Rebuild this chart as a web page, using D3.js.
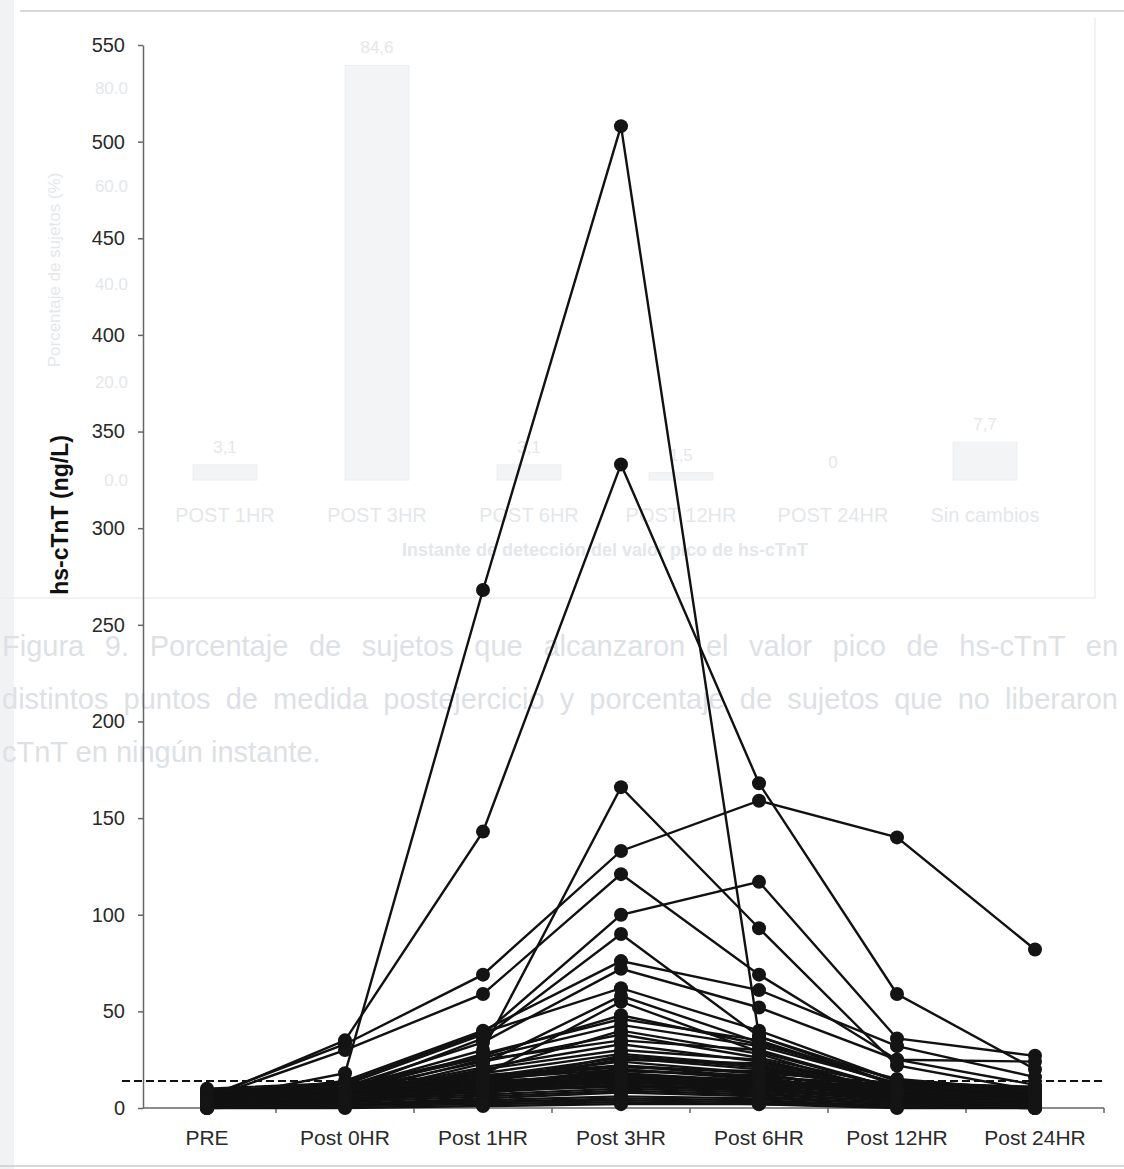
<!DOCTYPE html>
<html>
<head>
<meta charset="utf-8">
<script src="https://cdn.jsdelivr.net/npm/d3@7"></script>
<style>
  body { margin: 0; background: #ffffff; }
  svg { display: block; font-family: "Liberation Sans", Arial, sans-serif; }
</style>
</head>
<body>
<div id="chart"></div>
<script>

// time points
const categories = ["PRE", "Post 0HR", "Post 1HR", "Post 3HR", "Post 6HR", "Post 12HR", "Post 24HR"];

// hs-cTnT (ng/L) per subject, one value per time point
const subjectValues = [
    [4, 18, 268, 508, 37, 14, 7],
    [5, 35, 143, 333, 168, 59, 20],
    [6, 33, 69, 133, 159, 140, 82],
    [5, 30, 59, 121, 69, 25, 12],
    [3, 10, 30, 166, 93, 22, 9],
    [5, 12, 38, 100, 117, 36, 27],
    [4, 9, 36, 90, 37, 12, 5],
    [6, 14, 40, 76, 61, 32, 16],
    [3, 11, 34, 72, 52, 25, 24],
    [5, 13, 39, 62, 40, 14, 10],
    [4, 8, 28, 46, 35, 12, 8],
    [2, 7, 25, 35, 30, 10, 6],
    [3, 6, 20, 30, 25, 9, 5],
    [2, 5, 18, 28, 22, 8, 4],
    [4, 7, 16, 26, 20, 10, 6],
    [1, 4, 15, 24, 18, 7, 3],
    [3, 8, 14, 22, 16, 6, 4],
    [2, 5, 12, 20, 15, 5, 3],
    [5, 9, 13, 18, 14, 8, 5],
    [4, 6, 11, 16, 12, 6, 4],
    [2, 4, 10, 15, 11, 5, 2],
    [1, 3, 9, 14, 10, 4, 2],
    [3, 5, 8, 12, 9, 4, 3],
    [6, 8, 10, 13, 11, 9, 7],
    [7, 10, 12, 15, 13, 10, 8],
    [8, 11, 14, 17, 14, 11, 9],
    [9, 12, 15, 20, 16, 12, 10],
    [10, 13, 17, 22, 18, 13, 11],
    [2, 3, 6, 9, 7, 3, 1],
    [1, 2, 5, 8, 6, 2, 1],
    [0, 1, 3, 5, 4, 1, 0],
    [0, 2, 4, 6, 5, 2, 1],
    [1, 2, 3, 4, 3, 1, 0],
    [0, 0, 1, 2, 2, 0, 0],
    [3, 4, 7, 10, 8, 3, 2],
    [4, 5, 9, 11, 9, 5, 3],
    [2, 6, 19, 40, 28, 7, 4],
    [3, 7, 21, 33, 24, 9, 5],
    [4, 9, 24, 38, 26, 11, 7],
    [5, 10, 26, 43, 32, 13, 8],
    [6, 11, 27, 48, 33, 15, 9],
    [2, 5, 17, 55, 29, 10, 6],
    [3, 6, 23, 58, 34, 12, 7],
    [1, 4, 13, 27, 21, 8, 5],
    [5, 7, 12, 19, 17, 9, 6],
    [0, 1, 2, 3, 2, 1, 0],
    [7, 9, 11, 14, 12, 7, 6],
    [8, 10, 13, 16, 15, 8, 7],
    [6, 7, 9, 12, 10, 6, 5],
    [9, 11, 16, 21, 19, 11, 9],
    [4, 6, 14, 25, 23, 9, 6],
    [3, 5, 11, 17, 13, 7, 4]
];

const yTickValues = [0, 50, 100, 150, 200, 250, 300, 350, 400, 450, 500, 550];
const cutoffValue = 14;   // 99th percentile line

// faint print-through from the other side of the page
const ghostCategories = ["POST 1HR", "POST 3HR", "POST 6HR", "POST 12HR", "POST 24HR", "Sin cambios"];
const ghostValues = [3.1, 84.6, 3.1, 1.5, 0, 7.7];
const ghostValueLabels = ["3,1", "84,6", "3,1", "1,5", "0", "7,7"];
const ghostTicks = [0, 20, 40, 60, 80];
const ghostCaption = [
    "Figura 9. Porcentaje de sujetos que alcanzaron el valor pico de hs-cTnT en",
    "distintos puntos de medida postejercicio y porcentaje de sujetos que no liberaron",
    "cTnT en ningún instante."
];

const width = 1124, height = 1169;

let svg = d3.select("#chart").append("svg")
    .attr("width", width)
    .attr("height", height);

// ---------- ghost layer ----------
let ghost = svg.append("g").attr("class", "ghost").attr("fill", "#e4e7ea");

ghost.append("rect").attr("x", 0).attr("y", 0).attr("width", 14).attr("height", height).attr("fill", "#f1f2f3");
ghost.append("line").attr("x1", 20).attr("x2", width).attr("y1", 11).attr("y2", 11)
    .attr("stroke", "#c9cccf").attr("stroke-width", 1.5);
ghost.append("line").attr("x1", 0).attr("x2", 1095).attr("y1", 598).attr("y2", 598)
    .attr("stroke", "#eceef0").attr("stroke-width", 1.5);
ghost.append("line").attr("x1", 1095).attr("x2", 1095).attr("y1", 18).attr("y2", 598)
    .attr("stroke", "#eceef0").attr("stroke-width", 1.5);
ghost.append("line").attr("x1", 0).attr("x2", width).attr("y1", 1166).attr("y2", 1166)
    .attr("stroke", "#c9cccf").attr("stroke-width", 1.5);

let gx = d3.scaleBand().domain(ghostCategories).range([149, 1061]).paddingInner(0.58).paddingOuter(0.29);
let gy = d3.scaleLinear().domain([0, 80]).range([480, 88]);

ghost.selectAll(".gbar").data(ghostValues).join("rect")
    .attr("class", "gbar")
    .attr("x", (d, i) => gx(ghostCategories[i]))
    .attr("width", gx.bandwidth())
    .attr("y", d => gy(d))
    .attr("height", d => gy(0) - gy(d))
    .attr("fill", "#f3f4f5")
    .attr("stroke", "#eceef0");

ghost.selectAll(".gval").data(ghostValues).join("text")
    .attr("class", "gval")
    .attr("x", (d, i) => gx(ghostCategories[i]) + gx.bandwidth() / 2)
    .attr("y", d => gy(d) - 12)
    .attr("text-anchor", "middle")
    .attr("font-size", 17)
    .text((d, i) => ghostValueLabels[i]);

ghost.selectAll(".gtick").data(ghostTicks).join("text")
    .attr("class", "gtick")
    .attr("x", 128)
    .attr("y", d => gy(d) + 6)
    .attr("text-anchor", "end")
    .attr("font-size", 17)
    .text(d => d.toFixed(1));

ghost.selectAll(".gcat").data(ghostCategories).join("text")
    .attr("class", "gcat")
    .attr("x", d => gx(d) + gx.bandwidth() / 2)
    .attr("y", 522)
    .attr("text-anchor", "middle")
    .attr("font-size", 20)
    .text(d => d);

ghost.append("text")
    .attr("x", 605).attr("y", 556)
    .attr("text-anchor", "middle")
    .attr("font-size", 18).attr("font-weight", "bold")
    .text("Instante de detección del valor pico de hs-cTnT");

ghost.append("text")
    .attr("transform", "translate(60,270) rotate(-90)")
    .attr("text-anchor", "middle")
    .attr("font-size", 17)
    .text("Porcentaje de sujetos (%)");

// caption, justified with word spacing like the printed page
ghost.selectAll(".gcap").data(ghostCaption).join("text")
    .attr("class", "gcap")
    .attr("x", 2)
    .attr("y", (d, i) => 656 + i * 53)
    .attr("font-size", 29)
    .attr("fill", "#dde1e5")
    .text(d => d)
    .each(function(d, i) {
        if (i == 2) return;
        let natural = this.getComputedTextLength();
        let gaps = d.split(" ").length - 1;
        let extra = Math.max(0, (1116 - natural) / gaps);
        d3.select(this).attr("word-spacing", extra.toFixed(2));
    });

// ---------- main chart ----------
let x = d3.scaleBand().domain(categories).range([138, 1104]);
let y = d3.scaleLinear().domain([0, 550]).range([1108, 45]);
const axisLeftX = 143;

let chart = svg.append("g").attr("class", "chart");

// y axis
let yAxis = d3.axisLeft(y)
    .tickValues(yTickValues)
    .tickSize(5)
    .tickSizeOuter(0)
    .tickPadding(13);

let yG = chart.append("g")
    .attr("transform", "translate(" + axisLeftX + ",0)")
    .call(yAxis);
yG.select(".domain").attr("stroke", "#666").attr("stroke-width", 1.5);
yG.selectAll(".tick line").attr("stroke", "#666").attr("stroke-width", 1.5);
yG.selectAll(".tick text")
    .attr("font-size", 20)
    .attr("fill", "#2a2a2a")
    .attr("font-family", "Liberation Sans, Arial, sans-serif");

// x axis
chart.append("line")
    .attr("x1", axisLeftX).attr("x2", x.range()[1])
    .attr("y1", y(0)).attr("y2", y(0))
    .attr("stroke", "#666").attr("stroke-width", 1.5);

chart.selectAll(".xtick").data(categories).join("line")
    .attr("class", "xtick")
    .attr("x1", d => x(d) + x.bandwidth())
    .attr("x2", d => x(d) + x.bandwidth())
    .attr("y1", y(0)).attr("y2", y(0) + 5)
    .attr("stroke", "#666").attr("stroke-width", 1.5);

let xAxis = d3.axisBottom(x).tickSize(0).tickPadding(22);
let xG = chart.append("g")
    .attr("transform", "translate(0," + y(0) + ")")
    .call(xAxis);
xG.select(".domain").remove();
xG.selectAll(".tick text")
    .attr("font-size", 21)
    .attr("fill", "#2a2a2a")
    .attr("font-family", "Liberation Sans, Arial, sans-serif");

// y axis title
chart.append("text")
    .attr("transform", "translate(68,515) rotate(-90)")
    .attr("text-anchor", "middle")
    .attr("font-size", 23)
    .attr("font-weight", "bold")
    .attr("fill", "#111")
    .text("hs-cTnT (ng/L)");

// subject lines
let line = d3.line()
    .x((d, i) => x(categories[i]) + x.bandwidth() / 2)
    .y(d => y(d));

chart.selectAll(".subject").data(subjectValues).join("path")
    .attr("class", "subject")
    .attr("d", line)
    .attr("fill", "none")
    .attr("stroke", "#111")
    .attr("stroke-width", 2.4);

// cutoff dashed line
chart.append("line")
    .attr("x1", 122).attr("x2", 1102)
    .attr("y1", y(cutoffValue)).attr("y2", y(cutoffValue))
    .attr("stroke", "#111")
    .attr("stroke-width", 2)
    .attr("stroke-dasharray", "8,4");

// points
let points = [];
subjectValues.forEach(s => s.forEach((v, i) => points.push({cat: categories[i], value: v})));

chart.selectAll(".pt").data(points).join("circle")
    .attr("class", "pt")
    .attr("cx", d => x(d.cat) + x.bandwidth() / 2)
    .attr("cy", d => y(d.value))
    .attr("r", 7)
    .attr("fill", "#141414");

</script>
</body>
</html>
